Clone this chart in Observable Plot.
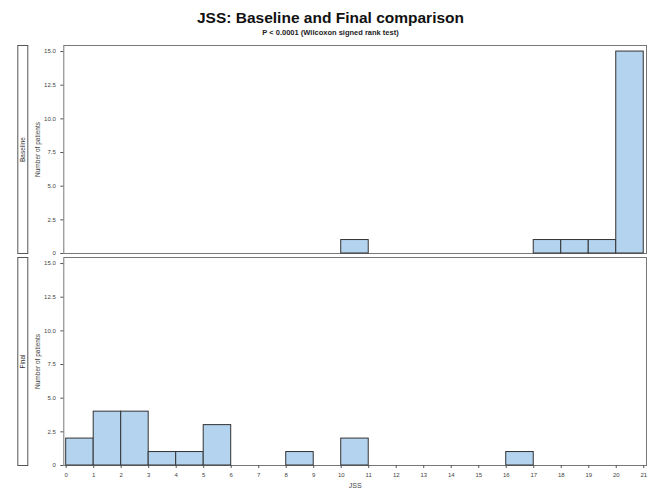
<!DOCTYPE html>
<html>
<head>
<meta charset="utf-8">
<script src="https://cdn.jsdelivr.net/npm/d3@7"></script>
<script src="https://cdn.jsdelivr.net/npm/@observablehq/plot@0.6"></script>
<style>
  html, body { margin: 0; padding: 0; background: #fff; }
  #wrap { position: relative; width: 661px; height: 502px; font-family: "Liberation Sans", Arial, sans-serif; }
  #title { position: absolute; top: 9px; left: 0; width: 661px; text-align: center; font-weight: bold; font-size: 15.5px; color: #111; }
  #subtitle { position: absolute; top: 28px; left: 0; width: 661px; text-align: center; font-weight: bold; font-size: 7.5px; color: #222; }
  #chart { position: absolute; top: 42px; left: 0; }
</style>
</head>
<body>
<div id="wrap">
  <div id="title">JSS: Baseline and Final comparison</div>
  <div id="subtitle">P &lt; 0.0001 (Wilcoxon signed rank test)</div>
  <div id="chart"></div>
</div>
<script>
const facets = ["Baseline", "Final"];
const baselineBinStart = [10, 17, 18, 19, 20];
const baselineCounts = [1, 1, 1, 1, 15];
const finalBinStart = [0, 1, 2, 3, 4, 5, 8, 10, 16];
const finalCounts = [2, 4, 4, 1, 1, 3, 1, 2, 1];
const binWidth = 1;
const xTicks = d3.range(0, 22);
const yTicks = [0, 2.5, 5, 7.5, 10, 12.5, 15];
const yLabel = "Number of patients";
const xLabel = "JSS";

const rows = [
  ...baselineBinStart.map((s, i) => ({panel: "Baseline", x1: s, x2: s + binWidth, n: baselineCounts[i]})),
  ...finalBinStart.map((s, i) => ({panel: "Final", x1: s, x2: s + binWidth, n: finalCounts[i]}))
];

const chart = Plot.plot({
  width: 661,
  height: 460,
  marginLeft: 63.3,
  marginRight: 15,
  marginTop: 3,
  marginBottom: 37,
  x: {domain: [-0.087, 21.1]},
  y: {domain: [0, 15.45]},
  fy: {domain: facets, axis: null, paddingInner: 0.019, paddingOuter: 0},
  style: {fontFamily: "'Liberation Sans', Arial, sans-serif", fontSize: "6px", color: "#444", background: "transparent"},
  marks: [
    Plot.frame({stroke: "#777"}),
    Plot.frame({stroke: "#555", insetLeft: -46, insetRight: 618.7}),
    Plot.rectY(rows, {x1: "x1", x2: "x2", y: "n", fy: "panel", fill: "#b3d3ef", stroke: "#333", strokeWidth: 1}),
    Plot.axisY({ticks: yTicks, tickFormat: d => d === 0 ? "0" : d.toFixed(1), tickSize: 3, tickPadding: 5, label: null, stroke: "#555"}),
    Plot.axisX({ticks: xTicks, tickFormat: d => String(d), tickSize: 3, tickPadding: 4, label: null, stroke: "#555"}),
    Plot.text([xLabel], {text: d => d, fy: () => "Final", frameAnchor: "bottom", dy: 22, fontSize: 7, fill: "#444"}),
    Plot.text(facets, {fy: d => d, text: d => d, frameAnchor: "left", textAnchor: "middle", dx: -41, rotate: -90, fontSize: 6.5, fill: "#333"}),
    Plot.text(facets, {fy: d => d, text: () => yLabel, frameAnchor: "left", textAnchor: "middle", dx: -25.5, rotate: -90, fontSize: 6.5, fill: "#444"})
  ]
});
document.getElementById("chart").appendChild(chart);
</script>
</body>
</html>
